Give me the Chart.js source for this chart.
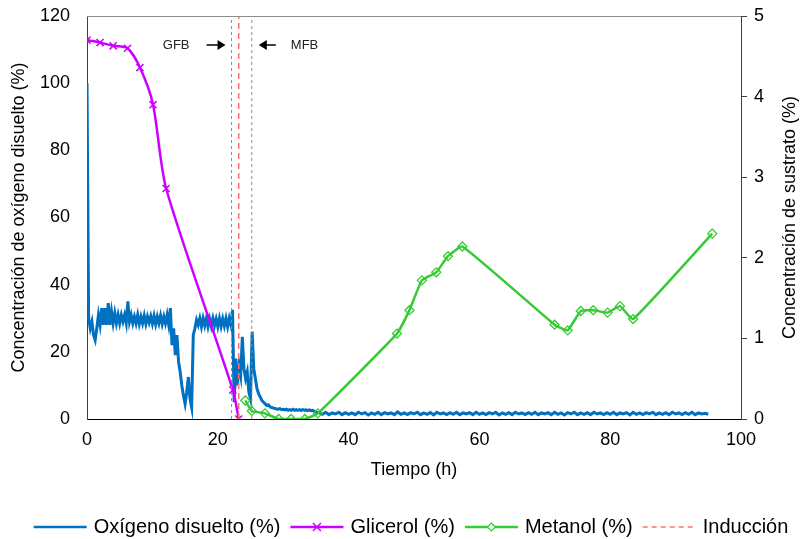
<!DOCTYPE html>
<html>
<head>
<meta charset="utf-8">
<script src="https://cdn.jsdelivr.net/npm/chart.js@4.4.1/dist/chart.umd.min.js"></script>
<style>
  html, body { margin: 0; padding: 0; background: #fff; }
  #wrap { width: 805px; height: 539px; }
</style>
</head>
<body>
<div id="wrap"><canvas id="chart" width="805" height="539"></canvas></div>
<script>
// ---------- datos ----------
// Oxígeno disuelto (%), registro cada 0.25 h de 0 a 35 h
const oxInicio = 0, oxPaso = 0.25;
const oxValores = [
  100, 30, 27, 29,        // 0 h
  25, 23.5, 27, 31,       // 1
  28, 33, 28, 33,         // 2
  28, 34.5, 28, 32,       // 3
  28.5, 31.5, 28.5, 31,   // 4
  28.5, 31, 29, 31,       // 5
  28.5, 35, 29, 31,       // 6
  28.5, 30.5, 28.5, 31,   // 7
  28.3, 30.5, 28.5, 30.8, // 8
  28.3, 30.5, 28.7, 30.6, // 9
  28.4, 30.7, 28.2, 30.5, // 10
  28.5, 30.8, 28.3, 30.5, // 11
  28.5, 31, 28, 33,       // 12
  22, 27, 19, 25,         // 13
  17, 14, 10, 7,          // 14
  4.5, 8, 12.5, 6,        // 15
  3.5, 25, 27, 29.5,      // 16
  28, 30, 27.5, 30,       // 17
  27.8, 30, 27.5, 29.8,   // 18
  27.6, 30, 27.8, 29.8,   // 19
  27.5, 30, 27.6, 29.9,   // 20
  27.7, 30, 27.5, 30,     // 21
  28, 32.5, 5, 18,        // 22
  10, 16, 13, 24.5,       // 23
  15, 12, 14, 8,          // 24
  6, 26, 15, 12,          // 25
  9, 7.5, 6.5, 5.5,       // 26
  5, 4.5, 4, 4.2,         // 27
  3.6, 3.4, 3.3, 3.1,     // 28
  3.0, 2.9, 3.1, 2.8,     // 29
  2.9, 2.7, 2.9, 2.6,     // 30
  2.8, 2.6, 2.9, 2.6,     // 31
  2.8, 2.6, 2.8, 2.5,     // 32
  2.8, 2.6, 2.7, 2.5,     // 33
  2.7, 2.5, 2.6, 2.3,     // 34
  2.0                     // 35
];
// Oxígeno disuelto (%), cada 0.5 h de 35.5 a 95 h
const oxColaInicio = 35.5, oxColaPaso = 0.5;
const oxCola = [
  1.9, 1.4, 2.0, 1.3, 1.8, 1.5, 2.0, 1.3, 1.9, 1.4,
  1.8, 1.3, 2.0, 1.5, 1.9, 1.2, 1.8, 1.4, 2.0, 1.3,
  1.9, 1.5, 1.8, 1.3, 2.1, 1.4, 1.8, 1.3, 1.9, 1.5,
  2.0, 1.3, 1.8, 1.4, 1.9, 1.2, 2.0, 1.5, 1.8, 1.3,
  1.9, 1.4, 2.0, 1.3, 1.8, 1.5, 1.9, 1.3, 2.0, 1.4,
  1.8, 1.3, 1.9, 1.5, 2.0, 1.2, 1.8, 1.4, 1.9, 1.3,
  2.0, 1.5, 1.8, 1.3, 1.9, 1.4, 2.0, 1.3, 1.8, 1.5,
  1.9, 1.3, 2.0, 1.4, 1.8, 1.2, 1.9, 1.5, 2.0, 1.3,
  1.8, 1.4, 1.9, 1.3, 2.0, 1.5, 1.8, 1.3, 1.9, 1.4,
  2.0, 1.3, 1.8, 1.5, 1.9, 1.2, 2.0, 1.4, 1.8, 1.3,
  1.9, 1.5, 2.0, 1.3, 1.8, 1.4, 1.9, 1.3, 2.0, 1.5,
  1.8, 1.3, 1.9, 1.4, 2.0, 1.3, 1.8, 1.5, 1.7, 1.4
];

// Glicerol (%)
const gliTiempo = [0, 2, 4, 6.2, 8.1, 10.1, 12.1, 22.3, 23.2];
const gliValor  = [4.70, 4.67, 4.63, 4.60, 4.36, 3.90, 2.86, 0.36, 0];

// Metanol (%)
const metTiempo = [24.2, 25.2, 27.2, 29.3, 31.2, 33.3, 35.3, 47.4, 49.3, 51.2, 53.4,
                   55.2, 57.4, 71.5, 73.5, 75.5, 77.4, 79.6, 81.5, 83.5, 95.6];
const metValor  = [0.23, 0.10, 0.07, 0, 0, 0, 0.07, 1.06, 1.35, 1.72, 1.82,
                   2.02, 2.14, 1.17, 1.10, 1.34, 1.35, 1.32, 1.40, 1.24, 2.30];

// eventos (h)
const finGFB = 22.1;
const induccion = 23.2;
const inicioMFB = 25.2;

// ejes
const xRango = [0, 100], xPasoTick = 20;
const oxRango = [0, 120], oxPasoTick = 20;
const susRango = [0, 5], susPasoTick = 1;

// ---------- armar series ----------
const oxPuntos = oxValores.map((v, i) => ({ x: oxInicio + i * oxPaso, y: v }))
  .concat(oxCola.map((v, i) => ({ x: oxColaInicio + i * oxColaPaso, y: v })));
const gliPuntos = gliTiempo.map((t, i) => ({ x: t, y: gliValor[i] }));
const metPuntos = metTiempo.map((t, i) => ({ x: t, y: metValor[i] }));
const vertical = t => [{ x: t, y: oxRango[0] }, { x: t, y: oxRango[1] }];

const FONT = '"Liberation Sans", Arial, sans-serif';
const AZUL = '#0070C0', MAGENTA = '#CC00FF', VERDE = '#33CC33', ROJO = '#FF6F6F', GRIS = '#8a8a8a';

// ---------- plugin: marco, textos, flechas, leyenda ----------
function flecha(ctx, x0, x1, y) {
  const dir = Math.sign(x1 - x0);
  ctx.beginPath(); ctx.moveTo(x0, y); ctx.lineTo(x1 - dir * 6, y); ctx.stroke();
  ctx.beginPath();
  ctx.moveTo(x1, y); ctx.lineTo(x1 - dir * 8, y - 5); ctx.lineTo(x1 - dir * 8, y + 5);
  ctx.closePath(); ctx.fill();
}

const extras = {
  id: 'extras',
  afterDraw(chart) {
    const { ctx, chartArea: a, scales } = chart;
    ctx.save();

    // borde superior
    ctx.strokeStyle = '#8c8c8c'; ctx.lineWidth = 1;
    ctx.beginPath(); ctx.moveTo(a.left, a.top + 0.5); ctx.lineTo(a.right, a.top + 0.5); ctx.stroke();

    // titulo eje derecho
    ctx.save();
    ctx.translate(790, (a.top + a.bottom) / 2);
    ctx.rotate(-Math.PI / 2);
    ctx.font = '18px ' + FONT; ctx.fillStyle = '#000';
    ctx.textAlign = 'center'; ctx.textBaseline = 'middle';
    ctx.fillText('Concentración de sustrato (%)', 0, 0);
    ctx.restore();

    // GFB / MFB
    const xg = scales.x.getPixelForValue(finGFB);
    const xm = scales.x.getPixelForValue(inicioMFB);
    const ya = a.top + 29;
    ctx.font = '13px ' + FONT; ctx.fillStyle = '#222'; ctx.strokeStyle = '#000'; ctx.lineWidth = 1.5;
    ctx.textBaseline = 'middle';
    ctx.textAlign = 'right'; ctx.fillText('GFB', xg - 42, ya);
    ctx.textAlign = 'left';  ctx.fillText('MFB', xm + 39, ya);
    ctx.fillStyle = '#000';
    flecha(ctx, xg - 25, xg - 6, ya);
    flecha(ctx, xm + 24, xm + 7, ya);

    // leyenda
    const items = [
      { txt: 'Oxígeno disuelto (%)', color: AZUL, w: 2.5 },
      { txt: 'Glicerol (%)', color: MAGENTA, w: 2.5, mark: 'x' },
      { txt: 'Metanol (%)', color: VERDE, w: 2.5, mark: 'd' },
      { txt: 'Inducción', color: ROJO, w: 1.5, dash: [5, 4] }
    ];
    ctx.font = '20px ' + FONT;
    const lineLen = 53, gapTxt = 7, gapItem = 10;
    let total = 0;
    items.forEach(it => { it.tw = ctx.measureText(it.txt).width; total += lineLen + gapTxt + it.tw; });
    total += gapItem * (items.length - 1);
    let x = 411 - total / 2;
    const yl = 527;
    items.forEach(it => {
      ctx.strokeStyle = it.color; ctx.lineWidth = it.w; ctx.setLineDash(it.dash || []);
      ctx.beginPath(); ctx.moveTo(x, yl); ctx.lineTo(x + lineLen, yl); ctx.stroke();
      ctx.setLineDash([]);
      const cx = x + lineLen / 2;
      if (it.mark === 'x') {
        ctx.lineWidth = 1.5;
        ctx.beginPath(); ctx.moveTo(cx - 4, yl - 4); ctx.lineTo(cx + 4, yl + 4);
        ctx.moveTo(cx - 4, yl + 4); ctx.lineTo(cx + 4, yl - 4); ctx.stroke();
      } else if (it.mark === 'd') {
        ctx.lineWidth = 1.2; ctx.fillStyle = '#fff';
        ctx.beginPath(); ctx.moveTo(cx, yl - 4); ctx.lineTo(cx + 4, yl); ctx.lineTo(cx, yl + 4); ctx.lineTo(cx - 4, yl);
        ctx.closePath(); ctx.fill(); ctx.stroke();
      }
      ctx.fillStyle = '#000'; ctx.textAlign = 'left'; ctx.textBaseline = 'middle';
      ctx.fillText(it.txt, x + lineLen + gapTxt, yl);
      x += lineLen + gapTxt + it.tw + gapItem;
    });

    ctx.restore();
  }
};

// ---------- chart ----------
const tickFont = { family: FONT, size: 18, lineHeight: 1 };

new Chart(document.getElementById('chart'), {
  type: 'line',
  data: {
    datasets: [
      { label: 'Inducción', data: vertical(induccion), yAxisID: 'y', borderColor: ROJO,
        borderWidth: 1.5, borderDash: [6, 4], pointRadius: 0 },
      { label: 'finGFB', data: vertical(finGFB), yAxisID: 'y', borderColor: GRIS,
        borderWidth: 1, borderDash: [3, 3], pointRadius: 0 },
      { label: 'inicioMFB', data: vertical(inicioMFB), yAxisID: 'y', borderColor: GRIS,
        borderWidth: 1, borderDash: [3, 3], pointRadius: 0 },
      { label: 'Glicerol (%)', data: gliPuntos, yAxisID: 'y1', borderColor: MAGENTA,
        borderWidth: 2.5, tension: 0.25,
        pointStyle: 'crossRot', pointRadius: 5, pointBorderWidth: 1.5, pointBorderColor: MAGENTA },
      { label: 'Metanol (%)', data: metPuntos, yAxisID: 'y1', borderColor: VERDE,
        borderWidth: 2.5, tension: 0.12,
        pointStyle: 'rectRot', pointRadius: 4.5, pointBorderWidth: 1.3,
        pointBorderColor: VERDE, pointBackgroundColor: 'rgba(0,0,0,0)' },
      { label: 'Oxígeno disuelto (%)', data: oxPuntos, yAxisID: 'y', borderColor: AZUL,
        borderWidth: 3, pointRadius: 0, tension: 0 }
    ]
  },
  options: {
    responsive: false,
    animation: false,
    events: [],
    layout: { padding: { top: 16, bottom: 55, left: 0, right: 0 } },
    plugins: { legend: { display: false }, tooltip: { enabled: false } },
    scales: {
      x: {
        type: 'linear', min: xRango[0], max: xRango[1],
        ticks: { stepSize: xPasoTick, color: '#000', font: tickFont, padding: 12, maxRotation: 0 },
        grid: { display: false, drawTicks: false },
        border: { color: '#000', width: 1 },
        title: { display: true, text: 'Tiempo (h)', color: '#000', font: { family: FONT, size: 18 },
                 padding: { top: 0, bottom: 3 } },
        afterFit(s) { s.height = 65; }
      },
      y: {
        position: 'left', min: oxRango[0], max: oxRango[1],
        ticks: { stepSize: oxPasoTick, color: '#000', font: tickFont, padding: 0 },
        grid: { display: true, drawOnChartArea: false, drawTicks: true, tickLength: 17, color: 'rgba(0,0,0,0)' },
        border: { color: '#404040', width: 1 },
        title: { display: true, text: 'Concentración de oxígeno disuelto (%)', color: '#000',
                 font: { family: FONT, size: 18 }, padding: { top: 8, bottom: 0 } },
        afterFit(s) { s.width = 87; }
      },
      y1: {
        position: 'right', min: susRango[0], max: susRango[1],
        ticks: { stepSize: susPasoTick, color: '#000', font: tickFont, padding: 7 },
        grid: { display: true, drawOnChartArea: false, drawTicks: true, tickLength: 6, color: '#404040' },
        border: { color: '#404040', width: 1 },
        afterFit(s) { s.width = 64; }
      }
    }
  },
  plugins: [extras]
});
</script>
</body>
</html>
